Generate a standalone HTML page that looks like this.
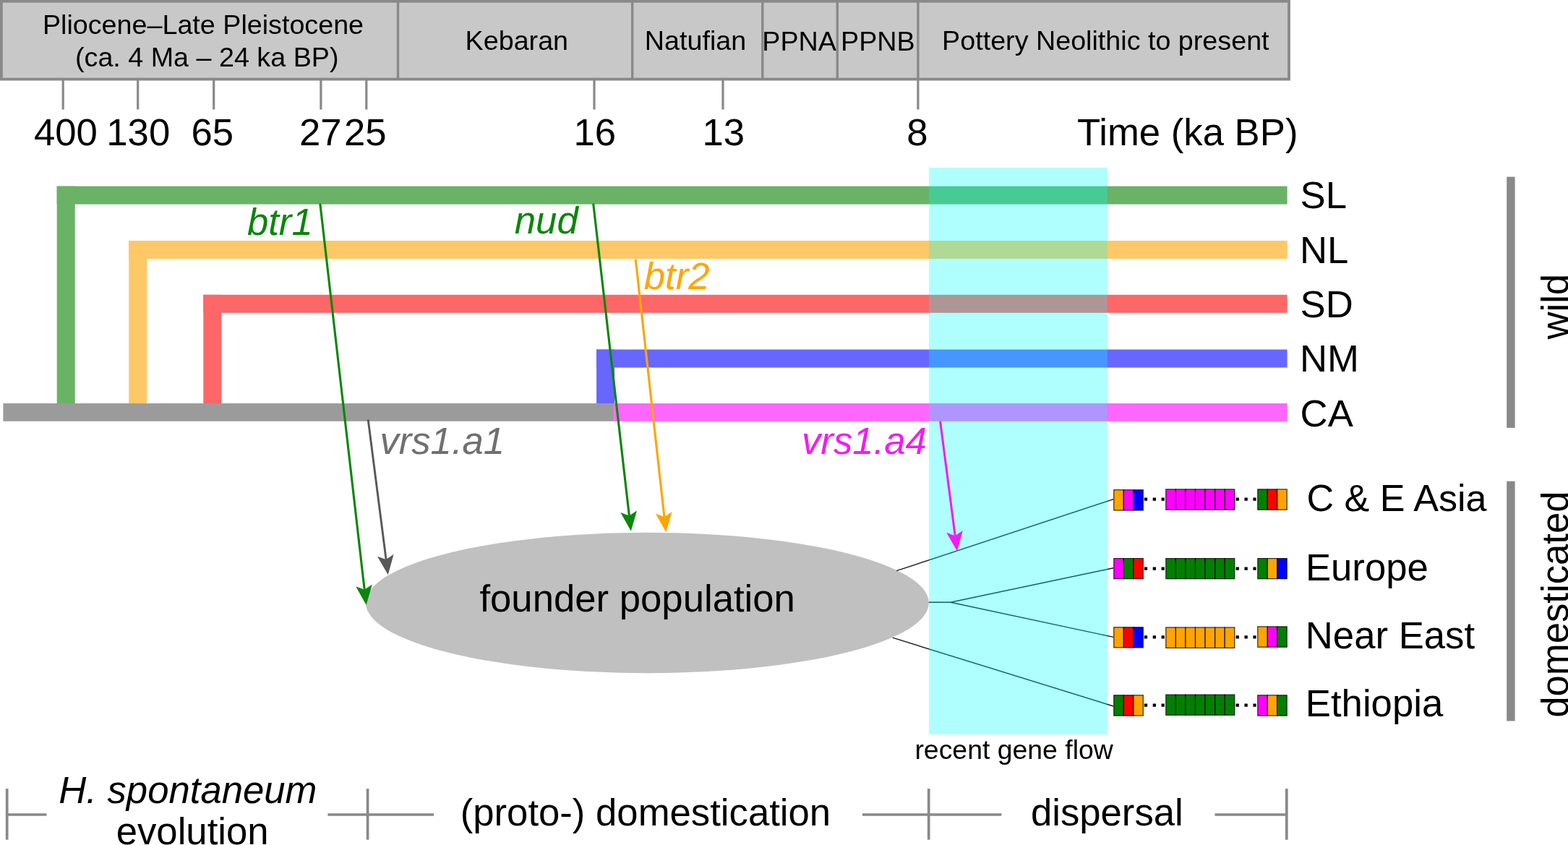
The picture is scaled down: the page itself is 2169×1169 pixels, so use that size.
<!DOCTYPE html>
<html><head><meta charset="utf-8"><title>Barley domestication timeline</title>
<style>
html,body{margin:0;padding:0;background:#fff;}
body{width:2169px;height:1169px;overflow:hidden;}
svg{display:block;font-family:"Liberation Sans", Arial, Helvetica, sans-serif;}
</style></head>
<body>
<svg width="2169" height="1169" viewBox="0 0 2169 1169">
<rect width="2169" height="1169" fill="#fff"/>
<rect x="1.9" y="1.8" width="1781.1" height="107.8" fill="#c8c8c8" stroke="#898989" stroke-width="3.8"/>
<line x1="550.5" y1="1.7" x2="550.5" y2="109.6" stroke="#898989" stroke-width="3.4"/>
<line x1="874.7" y1="1.7" x2="874.7" y2="109.6" stroke="#898989" stroke-width="3.4"/>
<line x1="1054.8" y1="1.7" x2="1054.8" y2="109.6" stroke="#898989" stroke-width="3.4"/>
<line x1="1158.3" y1="1.7" x2="1158.3" y2="109.6" stroke="#898989" stroke-width="3.4"/>
<line x1="1269.9" y1="1.7" x2="1269.9" y2="109.6" stroke="#898989" stroke-width="3.4"/>
<line x1="87.2" y1="109" x2="87.2" y2="151.5" stroke="#898989" stroke-width="3.2"/>
<line x1="190.7" y1="109" x2="190.7" y2="151.5" stroke="#898989" stroke-width="3.2"/>
<line x1="295.7" y1="109" x2="295.7" y2="151.5" stroke="#898989" stroke-width="3.2"/>
<line x1="443.9" y1="109" x2="443.9" y2="151.5" stroke="#898989" stroke-width="3.2"/>
<line x1="506.8" y1="109" x2="506.8" y2="151.5" stroke="#898989" stroke-width="3.2"/>
<line x1="822.0" y1="109" x2="822.0" y2="151.5" stroke="#898989" stroke-width="3.2"/>
<line x1="1000.0" y1="109" x2="1000.0" y2="151.5" stroke="#898989" stroke-width="3.2"/>
<line x1="1269.9" y1="109" x2="1269.9" y2="151.5" stroke="#898989" stroke-width="3.2"/>
<text x="58.9" y="47.0" font-size="37.7" fill="#000" style="">Pliocene–Late Pleistocene</text>
<text x="104.0" y="92.2" font-size="37.7" fill="#000" style="">(ca. 4 Ma – 24 ka BP)</text>
<text x="643.6" y="69.3" font-size="37.7" fill="#000" style="">Kebaran</text>
<text x="891.8" y="69.3" font-size="37.7" fill="#000" style="">Natufian</text>
<text x="1054.3" y="69.7" font-size="37.7" fill="#000" style="">PPNA</text>
<text x="1163.0" y="69.7" font-size="37.7" fill="#000" style="">PPNB</text>
<text x="1303.1" y="69.3" font-size="37.7" fill="#000" style="">Pottery Neolithic to present</text>
<text x="46.9" y="201.0" font-size="52.7" fill="#000" style="">400</text>
<text x="147.3" y="201.0" font-size="52.7" fill="#000" style="">130</text>
<text x="264.4" y="201.0" font-size="52.7" fill="#000" style="">65</text>
<text x="413.9" y="201.0" font-size="52.7" fill="#000" style="">27</text>
<text x="476.0" y="201.0" font-size="52.7" fill="#000" style="">25</text>
<text x="793.5" y="201.0" font-size="52.7" fill="#000" style="">16</text>
<text x="971.5" y="201.0" font-size="52.7" fill="#000" style="">13</text>
<text x="1254.3" y="201.0" font-size="52.7" fill="#000" style="">8</text>
<text x="1490.0" y="201.2" font-size="52.7" fill="#000" style="">Time (ka BP)</text>
<rect x="78.7" y="257.6" width="1701.9" height="25" fill="#69b266"/>
<rect x="78.7" y="257.6" width="25" height="300.4" fill="#69b266"/>
<rect x="178.2" y="333.0" width="1602.4" height="25" fill="#fec866"/>
<rect x="178.2" y="333.0" width="25" height="225.0" fill="#fec866"/>
<rect x="281.3" y="407.8" width="1499.3" height="25" fill="#fe6767"/>
<rect x="281.3" y="407.8" width="25" height="150.2" fill="#fe6767"/>
<rect x="825.1" y="483.5" width="955.5" height="25" fill="#6767fe"/>
<rect x="825.1" y="483.5" width="25" height="74.5" fill="#6767fe"/>
<rect x="4.4" y="558" width="844.8" height="24.8" fill="#9b9b9b"/>
<rect x="849.2" y="558" width="931.4" height="24.8" fill="#fe67fe"/>
<ellipse cx="895.4" cy="834" rx="389.4" ry="97.2" fill="#c0c0c0"/>
<text x="663.4" y="846.4" font-size="52.7" fill="#000" style="">founder population</text>
<path d="M1240.1 789.7 L1540.2 690.6" stroke="#1a1a1a" stroke-width="1.4" fill="none"/>
<path d="M1284.8 833.3 L1315 833.3 L1540.2 785.8 M1315 833.3 L1540.2 881.4" stroke="#1a1a1a" stroke-width="1.4" fill="none"/>
<path d="M1234.7 882.2 L1540.2 977" stroke="#1a1a1a" stroke-width="1.4" fill="none"/>
<rect x="1285" y="232" width="246.8" height="783.8" fill="#00ffff" fill-opacity="0.31"/>
<line x1="442.8" y1="281.6" x2="504.2" y2="815.7" stroke="#0a860a" stroke-width="3.1"/>
<path d="M506.6 837.0 L492.2 811.2 L504.2 815.7 L514.8 808.6 Z" fill="#0a860a"/>
<line x1="820.7" y1="281.6" x2="870.4" y2="713.5" stroke="#0a860a" stroke-width="3.1"/>
<path d="M872.8 734.8 L858.4 709.0 L870.4 713.5 L881.0 706.4 Z" fill="#0a860a"/>
<line x1="879.2" y1="358.6" x2="918.9" y2="715.0" stroke="#ffa500" stroke-width="3.1"/>
<path d="M921.3 736.3 L906.9 710.4 L918.9 715.0 L929.6 707.9 Z" fill="#ffa500"/>
<line x1="509.2" y1="580.5" x2="534.1" y2="774.1" stroke="#585858" stroke-width="2.9"/>
<path d="M536.8 795.3 L522.0 769.7 L534.1 774.1 L544.6 766.8 Z" fill="#585858"/>
<line x1="1300.6" y1="582.8" x2="1321.2" y2="741.2" stroke="#f41af4" stroke-width="3.0"/>
<path d="M1324.0 762.4 L1309.2 736.8 L1321.2 741.2 L1331.8 733.9 Z" fill="#f41af4"/>
<text x="341.9" y="325.0" font-size="52.7" fill="#0a860a" style="font-style:italic;">btr1</text>
<text x="711.8" y="323.0" font-size="52.7" fill="#0a860a" style="font-style:italic;">nud</text>
<text x="890.8" y="399.7" font-size="52.7" fill="#ffa500" style="font-style:italic;">btr2</text>
<text x="525.4" y="628.4" font-size="52.7" fill="#707070" style="font-style:italic;">vrs1.a1</text>
<text x="1109.0" y="628.1" font-size="52.7" fill="#f41af4" style="font-style:italic;">vrs1.a4</text>
<text x="1265.4" y="1049.6" font-size="37.4" fill="#000" style="">recent gene flow</text>
<text x="1798.6" y="288.4" font-size="52.7" fill="#000" style="">SL</text>
<text x="1798.0" y="364.4" font-size="52.7" fill="#000" style="">NL</text>
<text x="1798.6" y="439.0" font-size="52.7" fill="#000" style="">SD</text>
<text x="1798.0" y="514.2" font-size="52.7" fill="#000" style="">NM</text>
<text x="1798.6" y="590.2" font-size="52.7" fill="#000" style="">CA</text>
<rect x="1540.80" y="677.70" width="13.50" height="28.30" fill="#ffa500" stroke="#000" stroke-opacity="0.8" stroke-width="1.2"/>
<rect x="1554.30" y="677.70" width="13.50" height="28.30" fill="#ff00ff" stroke="#000" stroke-opacity="0.8" stroke-width="1.2"/>
<rect x="1567.80" y="677.70" width="13.50" height="28.30" fill="#0000ff" stroke="#000" stroke-opacity="0.8" stroke-width="1.2"/>
<rect x="1612.80" y="676.90" width="13.57" height="28.30" fill="#ff00ff" stroke="#000" stroke-opacity="0.8" stroke-width="1.2"/>
<rect x="1626.37" y="676.90" width="13.57" height="28.30" fill="#ff00ff" stroke="#000" stroke-opacity="0.8" stroke-width="1.2"/>
<rect x="1639.94" y="676.90" width="13.57" height="28.30" fill="#ff00ff" stroke="#000" stroke-opacity="0.8" stroke-width="1.2"/>
<rect x="1653.51" y="676.90" width="13.57" height="28.30" fill="#ff00ff" stroke="#000" stroke-opacity="0.8" stroke-width="1.2"/>
<rect x="1667.09" y="676.90" width="13.57" height="28.30" fill="#ff00ff" stroke="#000" stroke-opacity="0.8" stroke-width="1.2"/>
<rect x="1680.66" y="676.90" width="13.57" height="28.30" fill="#ff00ff" stroke="#000" stroke-opacity="0.8" stroke-width="1.2"/>
<rect x="1694.23" y="676.90" width="13.57" height="28.30" fill="#ff00ff" stroke="#000" stroke-opacity="0.8" stroke-width="1.2"/>
<rect x="1739.80" y="676.90" width="13.47" height="28.30" fill="#008000" stroke="#000" stroke-opacity="0.8" stroke-width="1.2"/>
<rect x="1753.27" y="676.90" width="13.47" height="28.30" fill="#ff0000" stroke="#000" stroke-opacity="0.8" stroke-width="1.2"/>
<rect x="1766.73" y="676.90" width="13.47" height="28.30" fill="#ffa500" stroke="#000" stroke-opacity="0.8" stroke-width="1.2"/>
<line x1="1582.8" y1="690.6" x2="1610.8" y2="690.6" stroke="#000" stroke-width="4.4" stroke-dasharray="4.3 7.6"/>
<line x1="1709.6" y1="690.6" x2="1737.6" y2="690.6" stroke="#000" stroke-width="4.4" stroke-dasharray="4.3 7.6"/>
<rect x="1540.80" y="772.60" width="13.50" height="28.10" fill="#ff00ff" stroke="#000" stroke-opacity="0.8" stroke-width="1.2"/>
<rect x="1554.30" y="772.60" width="13.50" height="28.10" fill="#008000" stroke="#000" stroke-opacity="0.8" stroke-width="1.2"/>
<rect x="1567.80" y="772.60" width="13.50" height="28.10" fill="#ff0000" stroke="#000" stroke-opacity="0.8" stroke-width="1.2"/>
<rect x="1612.80" y="772.60" width="13.57" height="28.10" fill="#008000" stroke="#000" stroke-opacity="0.8" stroke-width="1.2"/>
<rect x="1626.37" y="772.60" width="13.57" height="28.10" fill="#008000" stroke="#000" stroke-opacity="0.8" stroke-width="1.2"/>
<rect x="1639.94" y="772.60" width="13.57" height="28.10" fill="#008000" stroke="#000" stroke-opacity="0.8" stroke-width="1.2"/>
<rect x="1653.51" y="772.60" width="13.57" height="28.10" fill="#008000" stroke="#000" stroke-opacity="0.8" stroke-width="1.2"/>
<rect x="1667.09" y="772.60" width="13.57" height="28.10" fill="#008000" stroke="#000" stroke-opacity="0.8" stroke-width="1.2"/>
<rect x="1680.66" y="772.60" width="13.57" height="28.10" fill="#008000" stroke="#000" stroke-opacity="0.8" stroke-width="1.2"/>
<rect x="1694.23" y="772.60" width="13.57" height="28.10" fill="#008000" stroke="#000" stroke-opacity="0.8" stroke-width="1.2"/>
<rect x="1739.80" y="772.60" width="13.47" height="28.10" fill="#008000" stroke="#000" stroke-opacity="0.8" stroke-width="1.2"/>
<rect x="1753.27" y="772.60" width="13.47" height="28.10" fill="#ffa500" stroke="#000" stroke-opacity="0.8" stroke-width="1.2"/>
<rect x="1766.73" y="772.60" width="13.47" height="28.10" fill="#0000ff" stroke="#000" stroke-opacity="0.8" stroke-width="1.2"/>
<line x1="1582.8" y1="786.6" x2="1610.8" y2="786.6" stroke="#000" stroke-width="4.4" stroke-dasharray="4.3 7.6"/>
<line x1="1709.6" y1="786.6" x2="1737.6" y2="786.6" stroke="#000" stroke-width="4.4" stroke-dasharray="4.3 7.6"/>
<rect x="1540.80" y="867.80" width="13.50" height="28.10" fill="#ffa500" stroke="#000" stroke-opacity="0.8" stroke-width="1.2"/>
<rect x="1554.30" y="867.80" width="13.50" height="28.10" fill="#ff0000" stroke="#000" stroke-opacity="0.8" stroke-width="1.2"/>
<rect x="1567.80" y="867.80" width="13.50" height="28.10" fill="#0000ff" stroke="#000" stroke-opacity="0.8" stroke-width="1.2"/>
<rect x="1612.80" y="868.00" width="13.57" height="28.40" fill="#ffa500" stroke="#000" stroke-opacity="0.8" stroke-width="1.2"/>
<rect x="1626.37" y="868.00" width="13.57" height="28.40" fill="#ffa500" stroke="#000" stroke-opacity="0.8" stroke-width="1.2"/>
<rect x="1639.94" y="868.00" width="13.57" height="28.40" fill="#ffa500" stroke="#000" stroke-opacity="0.8" stroke-width="1.2"/>
<rect x="1653.51" y="868.00" width="13.57" height="28.40" fill="#ffa500" stroke="#000" stroke-opacity="0.8" stroke-width="1.2"/>
<rect x="1667.09" y="868.00" width="13.57" height="28.40" fill="#ffa500" stroke="#000" stroke-opacity="0.8" stroke-width="1.2"/>
<rect x="1680.66" y="868.00" width="13.57" height="28.40" fill="#ffa500" stroke="#000" stroke-opacity="0.8" stroke-width="1.2"/>
<rect x="1694.23" y="868.00" width="13.57" height="28.40" fill="#ffa500" stroke="#000" stroke-opacity="0.8" stroke-width="1.2"/>
<rect x="1739.80" y="866.90" width="13.47" height="28.30" fill="#ffa500" stroke="#000" stroke-opacity="0.8" stroke-width="1.2"/>
<rect x="1753.27" y="866.90" width="13.47" height="28.30" fill="#ff00ff" stroke="#000" stroke-opacity="0.8" stroke-width="1.2"/>
<rect x="1766.73" y="866.90" width="13.47" height="28.30" fill="#008000" stroke="#000" stroke-opacity="0.8" stroke-width="1.2"/>
<line x1="1582.8" y1="881.4" x2="1610.8" y2="881.4" stroke="#000" stroke-width="4.4" stroke-dasharray="4.3 7.6"/>
<line x1="1709.6" y1="881.4" x2="1737.6" y2="881.4" stroke="#000" stroke-width="4.4" stroke-dasharray="4.3 7.6"/>
<rect x="1540.80" y="961.80" width="13.50" height="28.30" fill="#008000" stroke="#000" stroke-opacity="0.8" stroke-width="1.2"/>
<rect x="1554.30" y="961.80" width="13.50" height="28.30" fill="#ff0000" stroke="#000" stroke-opacity="0.8" stroke-width="1.2"/>
<rect x="1567.80" y="961.80" width="13.50" height="28.30" fill="#ffa500" stroke="#000" stroke-opacity="0.8" stroke-width="1.2"/>
<rect x="1612.80" y="961.10" width="13.57" height="28.20" fill="#008000" stroke="#000" stroke-opacity="0.8" stroke-width="1.2"/>
<rect x="1626.37" y="961.10" width="13.57" height="28.20" fill="#008000" stroke="#000" stroke-opacity="0.8" stroke-width="1.2"/>
<rect x="1639.94" y="961.10" width="13.57" height="28.20" fill="#008000" stroke="#000" stroke-opacity="0.8" stroke-width="1.2"/>
<rect x="1653.51" y="961.10" width="13.57" height="28.20" fill="#008000" stroke="#000" stroke-opacity="0.8" stroke-width="1.2"/>
<rect x="1667.09" y="961.10" width="13.57" height="28.20" fill="#008000" stroke="#000" stroke-opacity="0.8" stroke-width="1.2"/>
<rect x="1680.66" y="961.10" width="13.57" height="28.20" fill="#008000" stroke="#000" stroke-opacity="0.8" stroke-width="1.2"/>
<rect x="1694.23" y="961.10" width="13.57" height="28.20" fill="#008000" stroke="#000" stroke-opacity="0.8" stroke-width="1.2"/>
<rect x="1739.80" y="961.80" width="13.47" height="28.30" fill="#ff00ff" stroke="#000" stroke-opacity="0.8" stroke-width="1.2"/>
<rect x="1753.27" y="961.80" width="13.47" height="28.30" fill="#ffa500" stroke="#000" stroke-opacity="0.8" stroke-width="1.2"/>
<rect x="1766.73" y="961.80" width="13.47" height="28.30" fill="#008000" stroke="#000" stroke-opacity="0.8" stroke-width="1.2"/>
<line x1="1582.8" y1="975.6" x2="1610.8" y2="975.6" stroke="#000" stroke-width="4.4" stroke-dasharray="4.3 7.6"/>
<line x1="1709.6" y1="975.6" x2="1737.6" y2="975.6" stroke="#000" stroke-width="4.4" stroke-dasharray="4.3 7.6"/>
<text x="1807.5" y="707.4" font-size="52.1" fill="#000" style="">C &amp; E Asia</text>
<text x="1805.9" y="802.5" font-size="52.7" fill="#000" style="">Europe</text>
<text x="1805.8" y="896.6" font-size="52.7" fill="#000" style="">Near East</text>
<text x="1805.8" y="990.7" font-size="52.7" fill="#000" style="">Ethiopia</text>
<rect x="2084.2" y="244.6" width="11.4" height="347.3" fill="#898989"/>
<rect x="2084.2" y="665.7" width="11.4" height="331.8" fill="#898989"/>
<text transform="translate(2168.7 469.6) rotate(-90)" font-size="52.7" fill="#000">wild</text>
<text transform="translate(2168.7 992.8) rotate(-90)" font-size="52.7" fill="#000">domesticated</text>
<line x1="7.9" y1="1127" x2="64.5" y2="1127" stroke="#898989" stroke-width="3.7"/>
<line x1="453.4" y1="1127" x2="600.1" y2="1127" stroke="#898989" stroke-width="3.7"/>
<line x1="1192.8" y1="1127" x2="1385.4" y2="1127" stroke="#898989" stroke-width="3.7"/>
<line x1="1680.5" y1="1127" x2="1781" y2="1127" stroke="#898989" stroke-width="3.7"/>
<line x1="9.7" y1="1091.1" x2="9.7" y2="1161.7" stroke="#898989" stroke-width="3.7"/>
<line x1="508.6" y1="1091.1" x2="508.6" y2="1161.7" stroke="#898989" stroke-width="3.7"/>
<line x1="1284.7" y1="1091.1" x2="1284.7" y2="1161.7" stroke="#898989" stroke-width="3.7"/>
<line x1="1779.8" y1="1091.1" x2="1779.8" y2="1161.7" stroke="#898989" stroke-width="3.7"/>
<text x="81.2" y="1110.6" font-size="52.7" fill="#000" style="font-style:italic;">H. spontaneum</text>
<text x="160.7" y="1167.8" font-size="52.7" fill="#000" style="">evolution</text>
<text x="636.7" y="1141.9" font-size="52.7" fill="#000" style="">(proto-) domestication</text>
<text x="1425.9" y="1141.9" font-size="52.7" fill="#000" style="">dispersal</text>
</svg>
</body></html>
